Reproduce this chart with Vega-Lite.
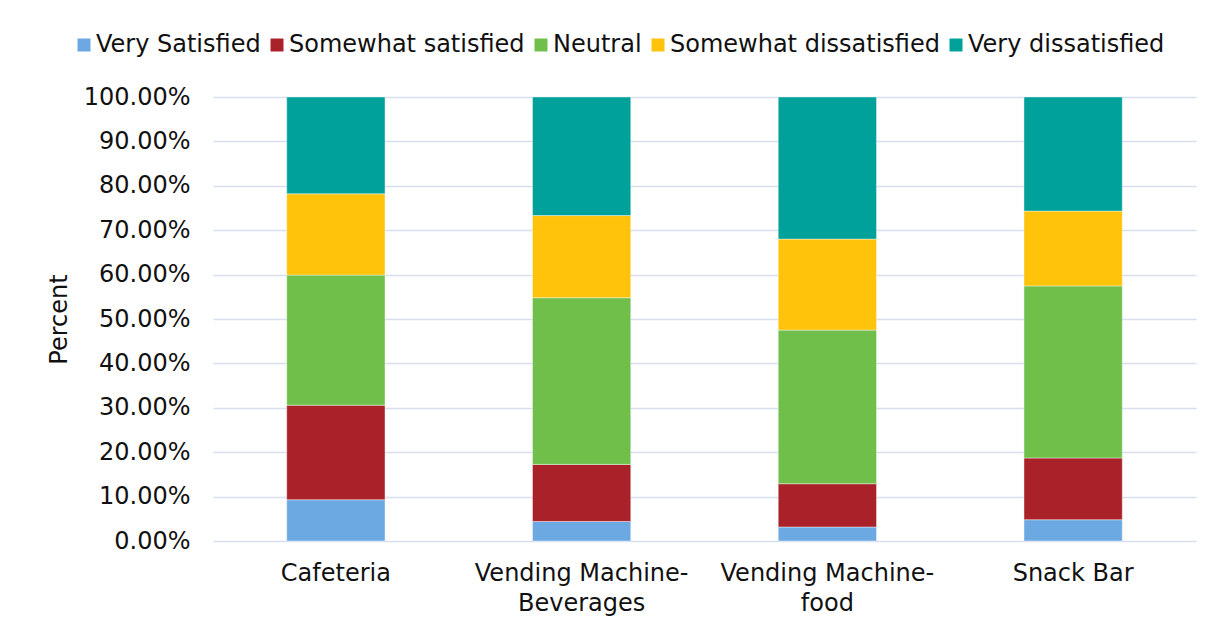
{
  "$schema": "https://vega.github.io/schema/vega-lite/v6.json",
  "autosize": {"type": "none"},
  "width": 983,
  "height": 444,
  "padding": {"left": 213, "top": 97, "right": 27, "bottom": 90},
  "background": "#ffffff",
  "data": {"values": [
    {"place": "Cafeteria", "rating": "Very Satisfied", "level": 1, "share": 0.093},
    {"place": "Cafeteria", "rating": "Somewhat satisfied", "level": 2, "share": 0.213},
    {"place": "Cafeteria", "rating": "Neutral", "level": 3, "share": 0.293},
    {"place": "Cafeteria", "rating": "Somewhat dissatisfied", "level": 4, "share": 0.183},
    {"place": "Cafeteria", "rating": "Very dissatisfied", "level": 5, "share": 0.218},
    {"place": "Vending Machine-Beverages", "rating": "Very Satisfied", "level": 1, "share": 0.044},
    {"place": "Vending Machine-Beverages", "rating": "Somewhat satisfied", "level": 2, "share": 0.1285},
    {"place": "Vending Machine-Beverages", "rating": "Neutral", "level": 3, "share": 0.3755},
    {"place": "Vending Machine-Beverages", "rating": "Somewhat dissatisfied", "level": 4, "share": 0.185},
    {"place": "Vending Machine-Beverages", "rating": "Very dissatisfied", "level": 5, "share": 0.267},
    {"place": "Vending Machine-food", "rating": "Very Satisfied", "level": 1, "share": 0.0315},
    {"place": "Vending Machine-food", "rating": "Somewhat satisfied", "level": 2, "share": 0.0975},
    {"place": "Vending Machine-food", "rating": "Neutral", "level": 3, "share": 0.346},
    {"place": "Vending Machine-food", "rating": "Somewhat dissatisfied", "level": 4, "share": 0.205},
    {"place": "Vending Machine-food", "rating": "Very dissatisfied", "level": 5, "share": 0.32},
    {"place": "Snack Bar", "rating": "Very Satisfied", "level": 1, "share": 0.048},
    {"place": "Snack Bar", "rating": "Somewhat satisfied", "level": 2, "share": 0.139},
    {"place": "Snack Bar", "rating": "Neutral", "level": 3, "share": 0.3875},
    {"place": "Snack Bar", "rating": "Somewhat dissatisfied", "level": 4, "share": 0.1685},
    {"place": "Snack Bar", "rating": "Very dissatisfied", "level": 5, "share": 0.257}
  ]},
  "mark": {"type": "bar", "stroke": "#ffffff", "strokeWidth": 0.6, "strokeOpacity": 0.7},
  "encoding": {
    "x": {
      "field": "place",
      "type": "nominal",
      "sort": ["Cafeteria", "Vending Machine-Beverages", "Vending Machine-food", "Snack Bar"],
      "scale": {"paddingInner": 0.6, "paddingOuter": 0.3},
      "axis": {
        "title": null,
        "labelAngle": 0,
        "domain": false,
        "ticks": false,
        "labelPadding": 20,
        "labelLineHeight": 30,
        "labelLimit": 500,
        "labelExpr": "indexof(datum.label, '-') > 0 ? [substring(datum.label, 0, indexof(datum.label, '-') + 1), substring(datum.label, indexof(datum.label, '-') + 1)] : datum.label"
      }
    },
    "y": {
      "field": "share",
      "type": "quantitative",
      "stack": "zero",
      "scale": {"domain": [0, 1], "nice": false},
      "axis": {
        "title": "Percent",
        "format": ".2%",
        "values": [0, 0.1, 0.2, 0.3, 0.4, 0.5, 0.6, 0.7, 0.8, 0.9, 1],
        "domain": false,
        "ticks": false,
        "labelPadding": 23,
        "titlePadding": 12,
        "grid": true
      }
    },
    "order": {"field": "level", "type": "quantitative", "sort": "ascending"},
    "color": {
      "field": "rating",
      "type": "nominal",
      "sort": ["Very Satisfied", "Somewhat satisfied", "Neutral", "Somewhat dissatisfied", "Very dissatisfied"],
      "scale": {
        "domain": ["Very Satisfied", "Somewhat satisfied", "Neutral", "Somewhat dissatisfied", "Very dissatisfied"],
        "range": ["#6CA9E2", "#AA2229", "#70BF4B", "#FFC30B", "#00A19B"]
      },
      "legend": {
        "title": null,
        "orient": "none",
        "direction": "horizontal",
        "legendX": -141,
        "legendY": -64,
        "symbolType": "square",
        "symbolSize": 169,
        "symbolStrokeWidth": 0,
        "labelOffset": 0,
        "columnPadding": 4
      }
    }
  },
  "config": {
    "font": "DejaVu Sans",
    "view": {"stroke": null},
    "axis": {
      "labelFont": "DejaVu Sans",
      "labelFontSize": 24,
      "labelColor": "#111111",
      "titleFont": "DejaVu Sans",
      "titleFontSize": 24,
      "titleFontWeight": "normal",
      "titleColor": "#111111",
      "gridColor": "#D6DEF0",
      "gridWidth": 1.5,
      "gridOpacity": 1
    },
    "legend": {
      "labelFont": "DejaVu Sans",
      "labelFontSize": 24,
      "labelColor": "#111111",
      "labelLimit": 500
    }
  }
}
